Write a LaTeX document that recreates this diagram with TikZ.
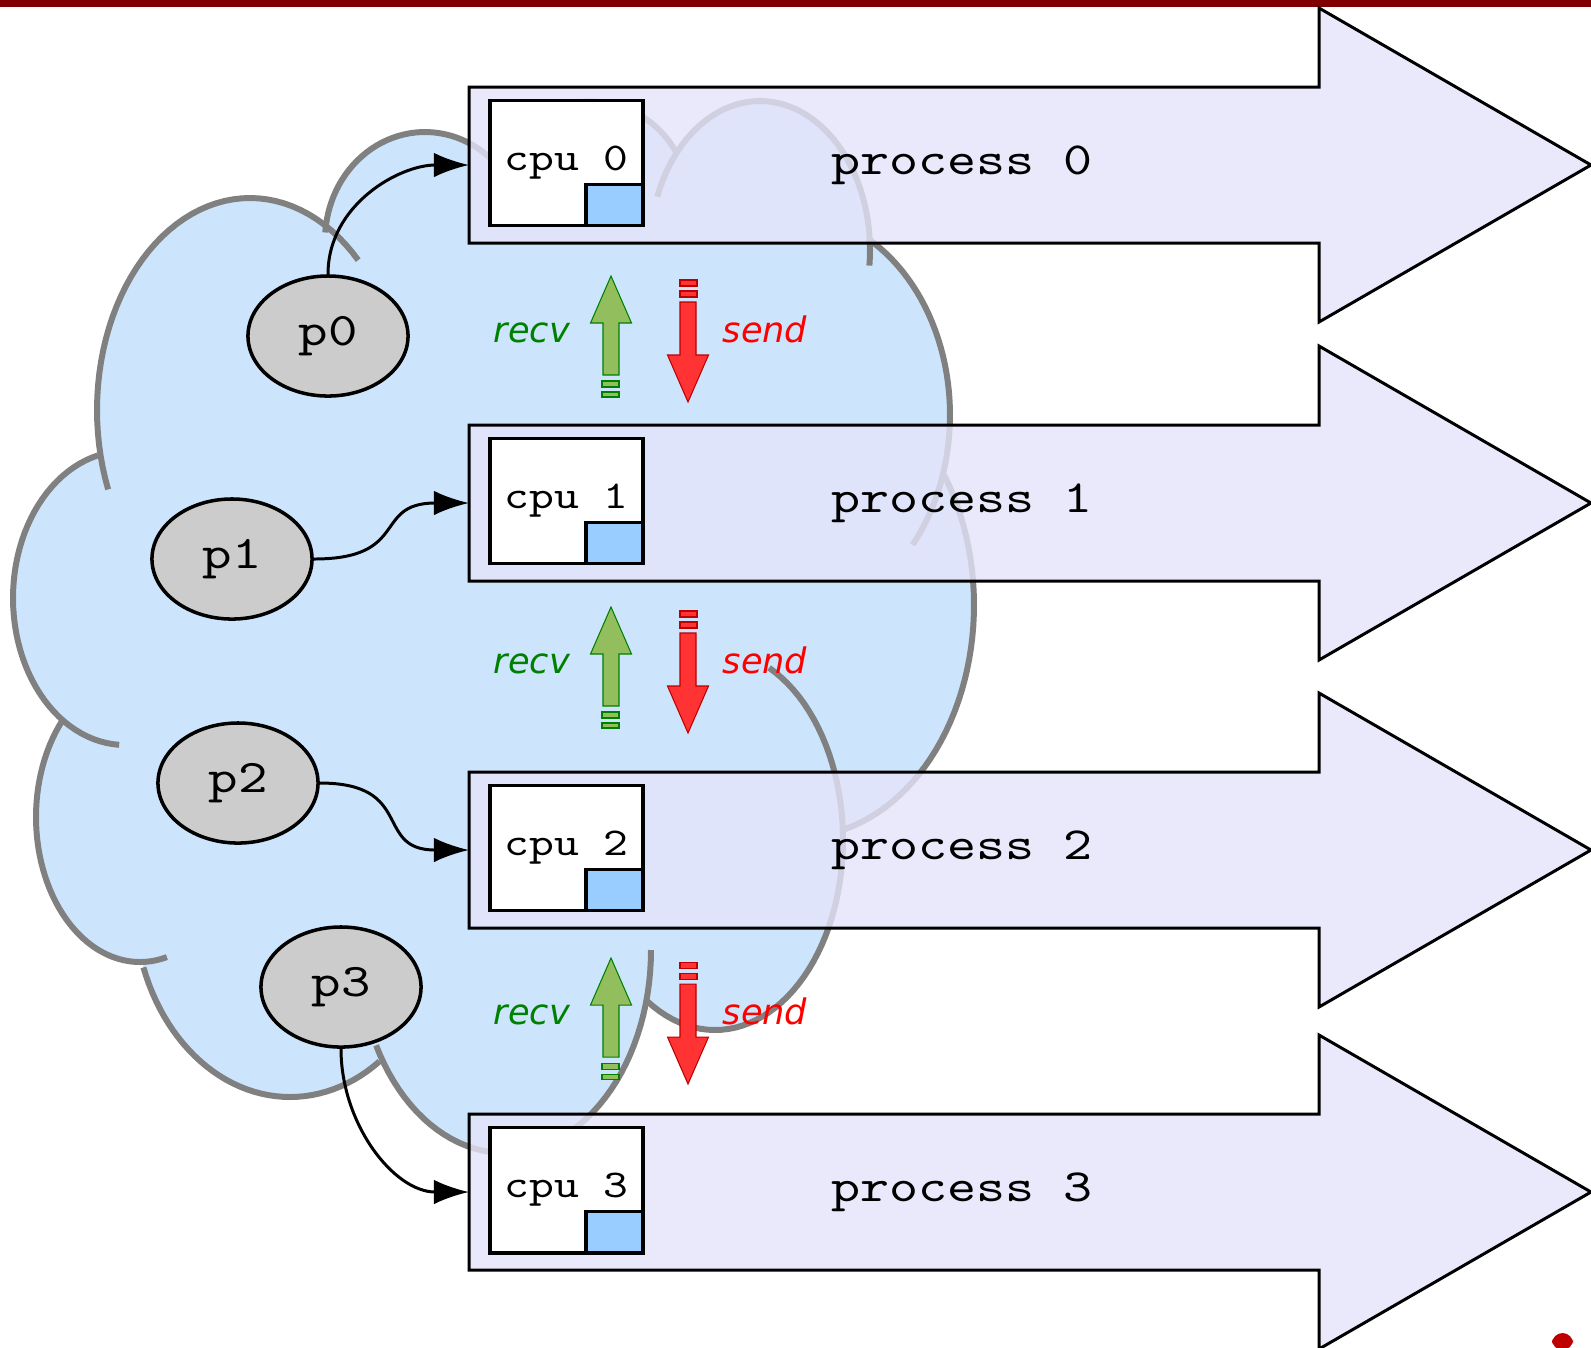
\documentclass[tikz,border=0pt]{standalone}
\usepackage{fontspec}
\newfontfamily\monofont{lmmono10-regular.otf}[FakeStretch=1.2]
\newfontfamily\labelfont{DejaVu Sans}
\usetikzlibrary{shapes.geometric,arrows.meta}

\definecolor{cloudblue}{RGB}{204,229,252}
\definecolor{cloudgray}{RGB}{128,128,128}
\definecolor{procfill}{RGB}{228,228,250}
\definecolor{cachefill}{RGB}{153,204,255}
\definecolor{pgray}{RGB}{204,204,204}
\definecolor{recvfill}{RGB}{146,190,94}
\definecolor{recvgreen}{RGB}{0,128,0}
\definecolor{sendfill}{RGB}{255,51,51}
\definecolor{senddark}{RGB}{190,0,0}
\definecolor{topbar}{RGB}{128,0,0}

\begin{document}
\begin{tikzpicture}[x=0.01cm,y=-0.01cm]
\tikzset{bump/.style={draw=cloudgray,line width=1.7pt},
         procarrow/.style={draw=black,line width=0.85pt,fill=procfill,fill opacity=0.8},
         proctext/.style={font=\monofont\fontsize{13.1}{16}\selectfont},
         cpu/.style={draw,fill=white,line width=1.1pt,inner sep=0pt,
                     minimum width=1.53cm,minimum height=1.25cm,
                     font=\monofont\fontsize{11.2}{14}\selectfont},
         cache/.style={draw,fill=cachefill,line width=1.1pt,inner sep=0pt,
                       minimum width=0.57cm,minimum height=0.41cm,anchor=south east},
         proc/.style={ellipse,draw,fill=pgray,line width=1pt,
                      minimum width=1.6cm,minimum height=1.2cm,
                      font=\monofont\fontsize{13.3}{16}\selectfont},
         link/.style={-{Latex[length=10pt,width=7pt]},line width=0.85pt},
         recvarrow/.style={draw=recvgreen,line width=0.3pt,fill=recvfill},
         sendarrow/.style={draw=senddark,line width=0.3pt,fill=sendfill},
         recvlabel/.style={anchor=base,text=recvgreen,font=\labelfont\itshape\fontsize{10}{12}\selectfont},
         sendlabel/.style={anchor=base,text=red,font=\labelfont\itshape\fontsize{10}{12}\selectfont}
}
\useasboundingbox (0,0) rectangle (1591,1347);
\fill[topbar] (0,0) rectangle (1591,7);

% cloud
\fill[cloudblue] (250,410) ellipse [x radius=153, y radius=212];
\fill[cloudblue] (425,240) ellipse [x radius=100, y radius=108];
\fill[cloudblue] (590,200) ellipse [x radius=98.5, y radius=98.5];
\fill[cloudblue] (760,250) ellipse [x radius=110, y radius=149];
\fill[cloudblue] (790,415) ellipse [x radius=160, y radius=202];
\fill[cloudblue] (800,605) ellipse [x radius=174, y radius=232];
\fill[cloudblue] (715,840) ellipse [x radius=128, y radius=190];
\fill[cloudblue] (505,950) ellipse [x radius=146, y radius=203];
\fill[cloudblue] (290,900) ellipse [x radius=156, y radius=197];
\fill[cloudblue] (140,817) ellipse [x radius=104, y radius=145];
\fill[cloudblue] (125,598) ellipse [x radius=112, y radius=147];
\fill[cloudblue] (250,410) -- (425,240) -- (590,200) -- (760,250) -- (790,415) -- (800,605)
  -- (715,840) -- (505,950) -- (290,900) -- (140,817) -- (125,598) -- cycle;
\draw[bump] plot[domain=158:315,samples=50] ({250+153*cos(\x)},{410+212*sin(\x)});
\draw[bump] plot[domain=184:315,samples=40] ({425+100*cos(\x)},{240+108*sin(\x)});
\draw[bump] plot[domain=202:332,samples=40] ({590+98.5*cos(\x)},{200+98.5*sin(\x)});
\draw[bump] plot[domain=201:366,samples=50] ({760+110*cos(\x)},{250+149*sin(\x)});
\draw[bump] plot[domain=299:400,samples=40] ({790+160*cos(\x)},{415+202*sin(\x)});
\draw[bump] plot[domain=326:435,samples=40] ({800+174*cos(\x)},{605+232*sin(\x)});
\draw[bump] plot[domain=295:482,samples=60] ({715+128*cos(\x)},{840+190*sin(\x)});
\draw[bump] plot[domain=0:152,samples=50] ({505+146*cos(\x)},{950+203*sin(\x)});
\draw[bump] plot[domain=55:160,samples=40] ({290+156*cos(\x)},{900+197*sin(\x)});
\draw[bump] plot[domain=75:222,samples=50] ({140+104*cos(\x)},{817+145*sin(\x)});
\draw[bump] plot[domain=93:256,samples=50] ({125+112*cos(\x)},{598+147*sin(\x)});

% processes
\draw[procarrow] (469,87) -- (1319,87) -- (1319,8) -- (1591,165) -- (1319,322) -- (1319,243) -- (469,243) -- cycle;
\draw[procarrow] (469,425) -- (1319,425) -- (1319,346) -- (1591,503) -- (1319,660) -- (1319,581) -- (469,581) -- cycle;
\draw[procarrow] (469,772) -- (1319,772) -- (1319,693) -- (1591,850) -- (1319,1007) -- (1319,928) -- (469,928) -- cycle;
\draw[procarrow] (469,1114) -- (1319,1114) -- (1319,1035) -- (1591,1192) -- (1319,1349) -- (1319,1270) -- (469,1270) -- cycle;
\coordinate (a0) at (469,165);
\coordinate (a1) at (469,503);
\coordinate (a2) at (469,850);
\coordinate (a3) at (469,1192);
\node[proctext] (proc0) at (962,165) {process 0};
\node[proctext] (proc1) at (962,503) {process 1};
\node[proctext] (proc2) at (962,850) {process 2};
\node[proctext] (proc3) at (962,1192) {process 3};

\node[cpu] (cpu0) at (566.5,163) {cpu 0};
\node[cpu] (cpu1) at (566.5,501) {cpu 1};
\node[cpu] (cpu2) at (566.5,848) {cpu 2};
\node[cpu] (cpu3) at (566.5,1190) {cpu 3};
\node[cache] (cache0) at (cpu0.south east) {};
\node[cache] (cache1) at (cpu1.south east) {};
\node[cache] (cache2) at (cpu2.south east) {};
\node[cache] (cache3) at (cpu3.south east) {};

\node[proc] (p0) at (328,336) {p0};
\node[proc] (p1) at (232,559) {p1};
\node[proc] (p2) at (238,783) {p2};
\node[proc] (p3) at (341,987) {p3};
\draw[link] (p0.north) to[out=90,in=180] (a0);
\draw[link] (p1.east) to[out=0,in=180,looseness=1.5] (a1);
\draw[link] (p2.east) to[out=0,in=180,looseness=1.5] (a2);
\draw[link] (p3.south) to[out=-90,in=180] (a3);

% messages
\begin{scope}[shift={(0,330)}]
\draw[recvarrow] (603,45) -- (603,-7) -- (590.5,-7) -- (611,-54) -- (631.5,-7) -- (619,-7) -- (619,45) -- cycle;
\draw[recvarrow] (602,51) rectangle (619,57);
\draw[recvarrow] (602,62) rectangle (619,67);
\draw[sendarrow] (680,-28) -- (680,25) -- (667.5,25) -- (688,72) -- (708.5,25) -- (696,25) -- (696,-28) -- cycle;
\draw[sendarrow] (680,-50) rectangle (697,-44);
\draw[sendarrow] (680,-39) rectangle (697,-33);
\node[recvlabel] (recv1) at (532,12) {recv};
\node[sendlabel] (send1) at (765,12) {send};
\end{scope}
\begin{scope}[shift={(0,661)}]
\draw[recvarrow] (603,45) -- (603,-7) -- (590.5,-7) -- (611,-54) -- (631.5,-7) -- (619,-7) -- (619,45) -- cycle;
\draw[recvarrow] (602,51) rectangle (619,57);
\draw[recvarrow] (602,62) rectangle (619,67);
\draw[sendarrow] (680,-28) -- (680,25) -- (667.5,25) -- (688,72) -- (708.5,25) -- (696,25) -- (696,-28) -- cycle;
\draw[sendarrow] (680,-50) rectangle (697,-44);
\draw[sendarrow] (680,-39) rectangle (697,-33);
\node[recvlabel] (recv2) at (532,12) {recv};
\node[sendlabel] (send2) at (765,12) {send};
\end{scope}
\begin{scope}[shift={(0,1012)}]
\draw[recvarrow] (603,45) -- (603,-7) -- (590.5,-7) -- (611,-54) -- (631.5,-7) -- (619,-7) -- (619,45) -- cycle;
\draw[recvarrow] (602,51) rectangle (619,57);
\draw[recvarrow] (602,62) rectangle (619,67);
\draw[sendarrow] (680,-28) -- (680,25) -- (667.5,25) -- (688,72) -- (708.5,25) -- (696,25) -- (696,-28) -- cycle;
\draw[sendarrow] (680,-50) rectangle (697,-44);
\draw[sendarrow] (680,-39) rectangle (697,-33);
\node[recvlabel] (recv3) at (532,12) {recv};
\node[sendlabel] (send3) at (765,12) {send};
\end{scope}

\fill[senddark,rounded corners=3pt] (1552,1333) rectangle (1573,1350);
\end{tikzpicture}
\end{document}
